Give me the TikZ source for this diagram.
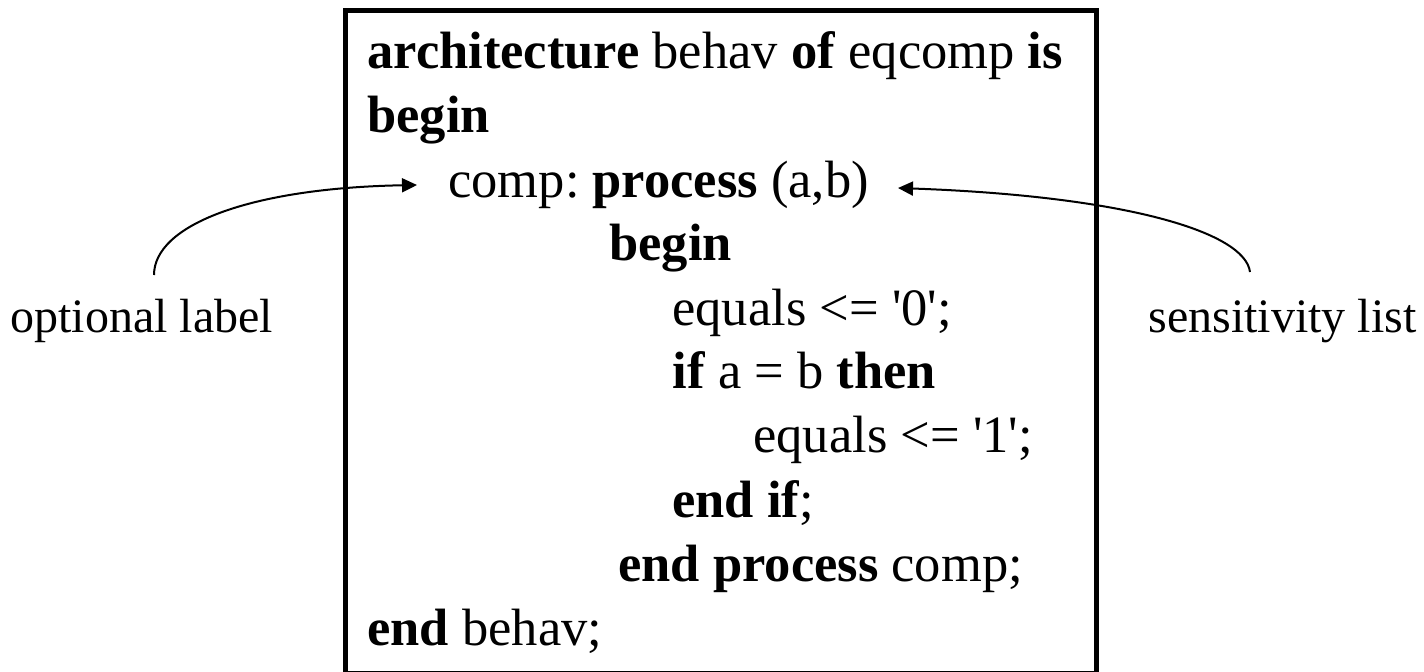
\documentclass[tikz,border=0pt]{standalone}
\usepackage{fontspec}
\setmainfont{Liberation Serif}
\usetikzlibrary{arrows.meta}
\frenchspacing
\begin{document}
\begin{tikzpicture}[x=0.5pt,y=-0.5pt,
  code/.style={anchor=base west,inner sep=0pt,font=\fontsize{26.25}{30}\selectfont},
  lbl/.style={anchor=base west,inner sep=0pt,font=\fontsize{24}{28}\selectfont},
  conn/.style={line width=1pt,-{Triangle[length=7.5pt,width=7pt]}}]
\useasboundingbox (0,0) rectangle (1424,671);
\draw[line width=2.5pt] (345,10) rectangle (1096,673.5);
\node[code] (l1) at (367,68) {\textbf{architecture} behav \textbf{of} eqcomp \textbf{is}};
\node[code] (l2) at (367,132) {\textbf{begin}};
\node[code] (l3) at (448,197) {comp: \textbf{process} (a,b)};
\node[code] (l4) at (609,260) {\textbf{begin}};
\node[code] (l5) at (672,325) {equals <= \textquotesingle0\textquotesingle;};
\node[code] (l6) at (672,388) {\textbf{if} a = b \textbf{then}};
\node[code] (l7) at (753,452) {equals <= \textquotesingle1\textquotesingle;};
\node[code] (l8) at (672,517) {\textbf{end if};};
\node[code] (l9) at (618,581) {\textbf{end process} comp;};
\node[code] (l10) at (367,645) {\textbf{end} behav;};
\node[lbl] (opt) at (10,332) {optional label};
\node[lbl] (sens) at (1148,332) {sensitivity list};
\coordinate (os) at (154,275);
\coordinate (ot) at (417,185);
\coordinate (ss) at (1250,272);
\coordinate (st) at (898,188);
\draw[conn] (os) .. controls (154,225) and (250,188) .. (ot);
\draw[conn] (ss) .. controls (1245,232) and (1125,196) .. (st);
\end{tikzpicture}
\end{document}
